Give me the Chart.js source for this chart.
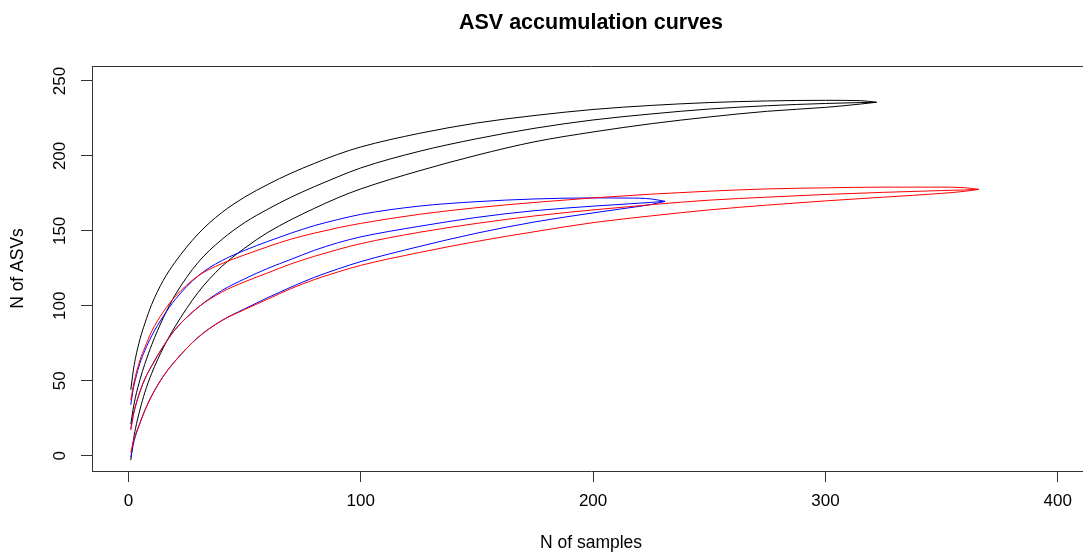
<!DOCTYPE html>
<html>
<head>
<meta charset="utf-8">
<script src="https://cdn.jsdelivr.net/npm/chart.js@4/dist/chart.umd.min.js"></script>
<style>
html,body{margin:0;padding:0;background:#fff;overflow:hidden;}
#wrap{position:relative;width:1083px;height:554px;overflow:hidden;background:#fff;}
canvas{display:block;}
</style>
</head>
<body>
<div id="wrap"><canvas id="c" width="1182" height="554"></canvas></div>
<script>
// ---- data ----
const chartTitle = 'ASV accumulation curves';
const xTitle = 'N of samples';
const yTitle = 'N of ASVs';
const xTicks = [0, 100, 200, 300, 400];
const yTicks = [0, 50, 100, 150, 200, 250];

// black group (upper bound, mean, lower bound)
const xBlack     = [1, 2, 3, 5, 7, 10, 15, 20, 30, 40, 50, 60, 70, 80, 90, 100, 125, 150, 175, 200, 225, 250, 275, 300, 315, 322];
const blackUpper = [44, 56, 65, 78, 88, 101, 117, 129, 148, 162, 172.5, 181, 188.5, 195, 201, 206, 215, 222, 227, 231, 233.7, 235.6, 236.7, 237.1, 236.9, 235.8];
const blackMean  = [21, 31, 39, 51, 61, 74, 92, 107, 129, 144, 155.5, 164.5, 172.5, 179.5, 186, 192, 203, 211.5, 218.5, 224, 228, 231.3, 233.5, 235, 235.6, 235.8];
const blackLower = [-3, 9, 18, 31, 42, 55, 72, 86, 109, 126, 138.5, 149, 157.5, 165, 172, 178, 190, 200.5, 209.5, 216, 221.5, 226, 229.8, 232.4, 234.6, 235.8];

// blue group
const xBlue     = [1, 2, 3, 5, 7, 10, 15, 20, 30, 40, 50, 60, 70, 80, 90, 100, 125, 150, 175, 200, 215, 225, 231];
const blueUpper = [34, 44, 51, 62, 70, 80, 93, 104, 120, 130, 137, 143, 148.5, 153.5, 157.5, 161, 166.5, 169.5, 171.3, 172, 171.9, 171.3, 169.7];
const blueMean  = [18, 27, 33, 43, 51, 60, 73, 84, 99, 110, 118, 125, 131, 137, 142, 146, 153, 159, 163.5, 166.5, 168, 169, 169.7];
const blueLower = [-1, 7, 13, 22, 30, 40, 53, 63, 79, 90, 98, 105.5, 112.5, 119, 124.5, 129.5, 139.5, 148.5, 156, 162, 165.3, 167.6, 169.7];

// red group
const xRed     = [1, 2, 3, 5, 7, 10, 15, 20, 30, 40, 50, 60, 70, 80, 90, 100, 125, 150, 175, 200, 225, 250, 275, 300, 325, 350, 360, 366];
const redUpper = [37, 46, 53, 64, 72, 83, 96, 106, 120, 128, 134, 139.5, 144.5, 148.5, 152, 155, 161, 165.5, 169, 172, 174.5, 176.5, 178, 178.7, 179.2, 179.2, 178.8, 177.7];
const redMean  = [17, 26, 33, 43, 51, 60, 73, 84, 99, 109, 116, 122, 128, 133, 137.5, 141.5, 149, 155, 160, 164, 167.5, 170.5, 172.5, 174.3, 175.7, 176.9, 177.3, 177.7];
const redLower = [2, 9, 14, 22, 30, 40, 53, 63, 79, 90, 97.5, 104.5, 111.5, 117.5, 122.5, 127, 135.5, 143, 149.5, 155.5, 160, 164, 167.2, 170, 172.5, 175, 176.4, 177.7];

// ---- chart ----
const pts = (xs, ys) => xs.map((x, i) => ({x: x, y: ys[i]}));
const line = (xs, ys, color) => ({
  data: pts(xs, ys), borderColor: color, backgroundColor: color,
  borderWidth: 1, pointRadius: 0, fill: false, cubicInterpolationMode: 'monotone'
});

Chart.defaults.font.family = "'Liberation Sans', Arial, sans-serif";
Chart.defaults.color = '#000';

const frame = {
  id: 'frame',
  afterDatasetsDraw(chart) {
    const a = chart.chartArea, ctx = chart.ctx;
    ctx.save();
    ctx.strokeStyle = '#333';
    ctx.lineWidth = 1;
    ctx.beginPath();
    ctx.moveTo(Math.round(a.left) + 0.5, Math.round(a.top) + 0.5);
    ctx.lineTo(Math.round(a.right) + 0.5, Math.round(a.top) + 0.5);
    ctx.lineTo(Math.round(a.right) + 0.5, Math.round(a.bottom) + 0.5);
    ctx.stroke();
    ctx.restore();
  }
};

const axisCommon = {
  grid: {drawOnChartArea: false, drawTicks: true, tickLength: 11, color: '#333', lineWidth: 1},
  border: {display: true, color: '#333', width: 1}
};

new Chart(document.getElementById('c'), {
  type: 'line',
  data: {
    datasets: [
      line(xRed, redUpper, '#FF0000'),
      line(xRed, redMean, '#FF0000'),
      line(xRed, redLower, '#FF0000'),
      line(xBlue, blueUpper, '#0000FF'),
      line(xBlue, blueMean, '#0000FF'),
      line(xBlue, blueLower, '#0000FF'),
      line(xBlack, blackUpper, '#000000'),
      line(xBlack, blackMean, '#000000'),
      line(xBlack, blackLower, '#000000')
    ]
  },
  options: {
    responsive: false,
    animation: false,
    devicePixelRatio: 1,
    layout: {padding: 0},
    plugins: {
      legend: {display: false},
      tooltip: {enabled: false},
      title: {
        display: true, text: chartTitle, color: '#000',
        font: {size: 21.5, weight: 'bold'},
        padding: {top: 10.6, bottom: 29.6}
      }
    },
    scales: {
      x: Object.assign({}, axisCommon, {
        type: 'linear', position: 'bottom', min: -15.7, max: 413.9,
        afterBuildTicks: s => { s.ticks = xTicks.map(v => ({value: v})); },
        afterFit: s => { s.height = 83; },
        ticks: {font: {size: 17}, color: '#000', padding: 9.5, maxRotation: 0, minRotation: 0},
        title: {display: true, text: xTitle, color: '#000', font: {size: 17.5}, padding: {top: 0, bottom: 0}}
      }),
      y: Object.assign({}, axisCommon, {
        type: 'linear', position: 'left', min: -10.2, max: 260,
        afterBuildTicks: s => { s.ticks = yTicks.map(v => ({value: v})); },
        afterFit: s => { s.width = 92; },
        ticks: {font: {size: 17}, color: '#000', padding: 6.8, minRotation: 90, maxRotation: 90, crossAlign: 'center'},
        title: {display: true, text: yTitle, color: '#000', font: {size: 17.5}, padding: {top: 7.8, bottom: 0}}
      }),
      yRight: {
        type: 'linear', position: 'right', display: true, min: 0, max: 1,
        afterFit: s => { s.width = 92; },
        ticks: {display: false}, grid: {display: false}, border: {display: false}
      }
    }
  },
  plugins: [frame]
});
</script>
</body>
</html>
